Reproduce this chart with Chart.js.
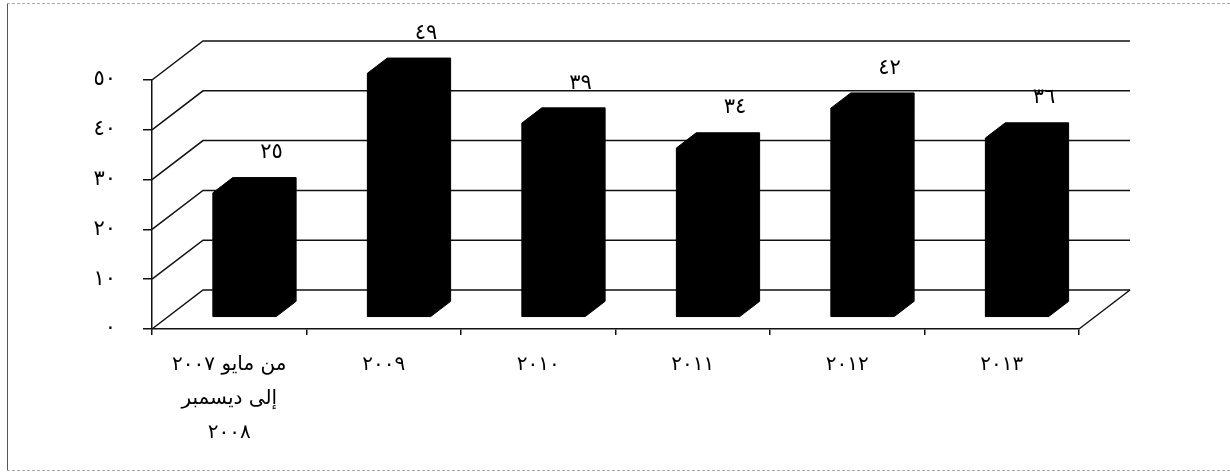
<!DOCTYPE html>
<html>
<head>
<meta charset="utf-8">
<script src="https://cdn.jsdelivr.net/npm/chart.js@4"></script>
<style>
  html, body { margin: 0; padding: 0; background: #fff; }
  #wrap { width: 1230px; height: 472px; }
</style>
</head>
<body>
<div id="wrap"><canvas id="chart"></canvas></div>
<script>
// ==========================================
// Data
// ==========================================

const categories = [
    ['من مايو ٢٠٠٧', 'إلى ديسمبر', '٢٠٠٨'],
    '٢٠٠٩',
    '٢٠١٠',
    '٢٠١١',
    '٢٠١٢',
    '٢٠١٣'
];
const values = [25, 49, 39, 34, 42, 36];
const yMin = 0;
const yMax = 50;
const yStep = 10;

const arabicDigits = '٠١٢٣٤٥٦٧٨٩';

function toArabic(n) {
    return String(n).replace(/\d/g, function (d) { return arabicDigits[d]; });
}

// ==========================================
// 3D look
// ==========================================

const FONT = "'DejaVu Sans', sans-serif";
const WALL_DX = 51;     // depth of the walls, in px
const WALL_DY = -39;
const BAR_FRONT = 0.3;  // bar front face, as fraction of wall depth
const BAR_BACK = 0.69;  // bar back face

const frameBorderPlugin = {
    id: 'frameBorder',
    beforeDraw(chart) {
        const ctx = chart.ctx;
        const w = chart.width;
        const h = chart.height;
        ctx.save();
        ctx.fillStyle = '#fff';
        ctx.fillRect(0, 0, w, h);
        ctx.lineWidth = 1;
        ctx.strokeStyle = '#555';
        ctx.beginPath();
        ctx.moveTo(7.5, 3);
        ctx.lineTo(7.5, h - 1);
        ctx.stroke();
        ctx.strokeStyle = '#aaa';
        ctx.setLineDash([3, 2]);
        ctx.beginPath();
        ctx.moveTo(7, 3.5);
        ctx.lineTo(w, 3.5);
        ctx.moveTo(7, h - 1.5);
        ctx.lineTo(w, h - 1.5);
        ctx.stroke();
        ctx.restore();
    }
};

const wallsPlugin = {
    id: 'walls3d',
    beforeDatasetsDraw(chart) {
        const ctx = chart.ctx;
        const xs = chart.scales.x;
        const ys = chart.scales.y;
        const left = xs.left;
        const right = xs.right;

        ctx.save();
        ctx.strokeStyle = '#111';
        ctx.lineWidth = 1.5;
        ys.ticks.forEach(function (t) {
            const y = ys.getPixelForValue(t.value);
            ctx.beginPath();
            ctx.moveTo(left, y);
            ctx.lineTo(left + WALL_DX, y + WALL_DY);
            ctx.lineTo(right + WALL_DX, y + WALL_DY);
            ctx.stroke();
        });
        // right edge of the floor
        const y0 = ys.getPixelForValue(yMin);
        ctx.beginPath();
        ctx.moveTo(right, y0);
        ctx.lineTo(right + WALL_DX, y0 + WALL_DY);
        ctx.stroke();
        ctx.restore();

        // shift the bars back to their depth
        ctx.save();
        ctx.translate(WALL_DX * BAR_FRONT, WALL_DY * BAR_FRONT);
    },
    afterDatasetsDraw(chart) {
        const ctx = chart.ctx;
        ctx.restore();

        const fx = WALL_DX * BAR_FRONT;
        const fy = WALL_DY * BAR_FRONT;
        const bx = WALL_DX * (BAR_BACK - BAR_FRONT);
        const by = WALL_DY * (BAR_BACK - BAR_FRONT);
        const meta = chart.getDatasetMeta(0);

        ctx.save();
        meta.data.forEach(function (bar, i) {
            const p = bar.getProps(['x', 'y', 'base', 'width'], true);
            const x0 = p.x - p.width / 2 + fx;
            const x1 = p.x + p.width / 2 + fx;
            const top = p.y + fy;
            const base = p.base + fy;

            // whole prism outline: front, top and side faces
            ctx.fillStyle = '#000';
            ctx.strokeStyle = '#000';
            ctx.lineWidth = 1;
            ctx.beginPath();
            ctx.moveTo(x0, base);
            ctx.lineTo(x0, top);
            ctx.lineTo(x0 + bx, top + by);
            ctx.lineTo(x1 + bx, top + by);
            ctx.lineTo(x1 + bx, base + by);
            ctx.lineTo(x1, base);
            ctx.closePath();
            ctx.fill();
            ctx.stroke();

            // value label
            ctx.font = '21px ' + FONT;
            ctx.textAlign = 'center';
            ctx.textBaseline = 'middle';
            ctx.fillText(toArabic(values[i]), (x0 + x1) / 2 + 27, top - 40);
        });
        ctx.restore();
    }
};

// ==========================================
// Chart
// ==========================================

function createChart() {
    const ctx = document.getElementById('chart').getContext('2d');

    new Chart(ctx, {
        type: 'bar',
        data: {
            labels: categories,
            datasets: [{
                data: values,
                backgroundColor: '#000',
                borderWidth: 0,
                categoryPercentage: 1,
                barPercentage: 0.41
            }]
        },
        options: {
            responsive: true,
            maintainAspectRatio: false,
            animation: false,
            layout: {
                padding: { top: 80, right: 151, bottom: 0, left: 0 }
            },
            plugins: {
                legend: { display: false },
                tooltip: { enabled: false }
            },
            scales: {
                x: {
                    afterFit: function (scale) { scale.height = 143; },
                    grid: {
                        drawOnChartArea: false,
                        drawTicks: true,
                        tickLength: 6,
                        color: '#111',
                        lineWidth: 1.5,
                        offset: true
                    },
                    border: { display: true, color: '#111', width: 1.5 },
                    ticks: {
                        color: '#000',
                        padding: 13,
                        maxRotation: 0,
                        autoSkip: false,
                        font: { family: FONT, size: 20, lineHeight: 1.7 }
                    }
                },
                y: {
                    min: yMin,
                    max: yMax,
                    afterFit: function (scale) { scale.width = 152; },
                    grid: {
                        drawOnChartArea: false,
                        drawTicks: true,
                        tickLength: 9,
                        color: '#111',
                        lineWidth: 1.5
                    },
                    border: { display: true, color: '#111', width: 1.5 },
                    ticks: {
                        stepSize: yStep,
                        color: '#000',
                        padding: 27,
                        font: { family: FONT, size: 21 },
                        callback: function (v) { return toArabic(v); }
                    }
                }
            }
        },
        plugins: [frameBorderPlugin, wallsPlugin]
    });
}

createChart();
</script>
</body>
</html>
